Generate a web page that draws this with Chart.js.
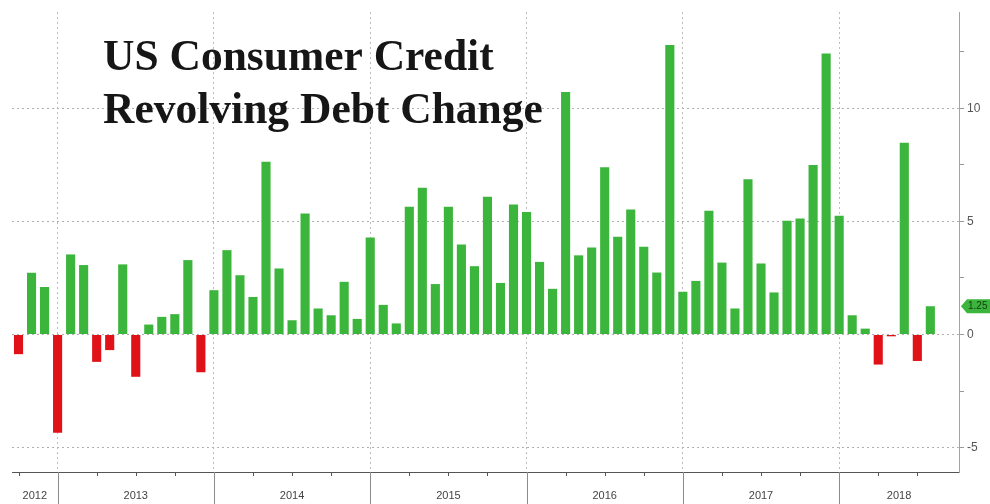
<!DOCTYPE html>
<html>
<head>
<meta charset="utf-8">
<script src="https://cdn.jsdelivr.net/npm/chart.js@4.4.1/dist/chart.umd.min.js"></script>
<style>
  html, body { margin: 0; padding: 0; background: #fff; }
  #wrap { width: 990px; height: 504px; }
</style>
</head>
<body>
<div id="wrap"><canvas id="debtChart" width="990" height="504"></canvas></div>
<script>
// monthly revolving credit change, $bn (Sep 2012 .. Jul 2018)
const months = [
  '2012-09', '2012-10', '2012-11', '2012-12',
  '2013-01', '2013-02', '2013-03', '2013-04', '2013-05', '2013-06', '2013-07', '2013-08', '2013-09', '2013-10', '2013-11', '2013-12',
  '2014-01', '2014-02', '2014-03', '2014-04', '2014-05', '2014-06', '2014-07', '2014-08', '2014-09', '2014-10', '2014-11', '2014-12',
  '2015-01', '2015-02', '2015-03', '2015-04', '2015-05', '2015-06', '2015-07', '2015-08', '2015-09', '2015-10', '2015-11', '2015-12',
  '2016-01', '2016-02', '2016-03', '2016-04', '2016-05', '2016-06', '2016-07', '2016-08', '2016-09', '2016-10', '2016-11', '2016-12',
  '2017-01', '2017-02', '2017-03', '2017-04', '2017-05', '2017-06', '2017-07', '2017-08', '2017-09', '2017-10', '2017-11', '2017-12',
  '2018-01', '2018-02', '2018-03', '2018-04', '2018-05', '2018-06', '2018-07'
];
const values = [
  -0.87, 2.73, 2.1, -4.34,
  3.54, 3.07, -1.21, -0.69, 3.1, -1.87, 0.44, 0.78, 0.9, 3.29, -1.67, 1.96,
  3.73, 2.62, 1.66, 7.64, 2.92, 0.63, 5.35, 1.15, 0.85, 2.33, 0.69, 4.29,
  1.31, 0.49, 5.65, 6.49, 2.23, 5.65, 3.98, 3.02, 6.09, 2.28, 5.75, 5.42,
  3.21, 2.02, 10.72, 3.5, 3.85, 7.39, 4.32, 5.53, 3.88, 2.74, 12.8, 1.89,
  2.37, 5.47, 3.18, 1.15, 6.86, 3.14, 1.86, 5.03, 5.13, 7.49, 12.43, 5.25,
  0.85, 0.26, -1.33, -0.08, 8.48, -1.17, 1.25
];
const years = ['2012', '2013', '2014', '2015', '2016', '2017', '2018'];
const yTickValues = [-5, -2.5, 0, 2.5, 5, 7.5, 10, 12.5];
const titleLines = ['US Consumer Credit', 'Revolving Debt Change'];

const GREEN = '#3cb53c';
const RED = '#e01218';

// december bars sit on the year boundary, quarter ends get a small tick
const yearEdges = months.map((m, i) => m.endsWith('-12') ? i : -1).filter(i => i >= 0);
const quarterIdx = months.map((m, i) => /-(03|06|09|12)$/.test(m) ? i : -1).filter(i => i >= 0);

const X_MIN = -0.5, X_MAX = 72.2;

const bottomAxisPlugin = {
    id: 'bottomAxis',
    afterDraw: (chart) => {
        const ctx = chart.ctx;
        const xs = chart.scales.x;
        const ys = chart.scales.y;
        const area = chart.chartArea;
        ctx.save();

        // quarter ticks
        ctx.strokeStyle = '#555';
        ctx.lineWidth = 1;
        quarterIdx.forEach(i => {
            const px = Math.round(xs.getPixelForValue(i)) + 0.5;
            ctx.beginPath();
            ctx.moveTo(px, area.bottom);
            ctx.lineTo(px, area.bottom + 4);
            ctx.stroke();
        });

        // year separators
        ctx.strokeStyle = '#8c8c8c';
        yearEdges.forEach(i => {
            const px = Math.round(xs.getPixelForValue(i)) + 0.5;
            ctx.beginPath();
            ctx.moveTo(px, area.bottom);
            ctx.lineTo(px, chart.height);
            ctx.stroke();
        });

        // year labels, centred in each segment
        const edgesPx = [xs.getPixelForValue(X_MIN)]
            .concat(yearEdges.map(i => xs.getPixelForValue(i)))
            .concat([xs.getPixelForValue(X_MAX)]);
        ctx.font = '11px "Liberation Sans", sans-serif';
        ctx.fillStyle = '#444';
        ctx.textAlign = 'center';
        ctx.textBaseline = 'middle';
        years.forEach((y, k) => {
            ctx.fillText(y, (edgesPx[k] + edgesPx[k + 1]) / 2, area.bottom + 24);
        });

        // last value tag on the right axis
        const last = values[values.length - 1];
        const ty = ys.getPixelForValue(last);
        const tx = area.right + 2;
        ctx.fillStyle = GREEN;
        ctx.beginPath();
        ctx.moveTo(tx, ty);
        ctx.lineTo(tx + 6, ty - 7);
        ctx.lineTo(chart.width, ty - 7);
        ctx.lineTo(chart.width, ty + 7);
        ctx.lineTo(tx + 6, ty + 7);
        ctx.closePath();
        ctx.fill();
        ctx.font = '10px "Liberation Sans", sans-serif';
        ctx.fillStyle = '#163a16';
        ctx.textAlign = 'left';
        ctx.fillText(last.toFixed(2), tx + 7, ty + 0.5);

        // chart title
        ctx.font = 'bold 43.5px "Liberation Serif", serif';
        ctx.fillStyle = '#161616';
        ctx.textAlign = 'left';
        ctx.textBaseline = 'alphabetic';
        ctx.fillText(titleLines[0], 103, 70);
        ctx.fillText(titleLines[1], 103, 123);

        ctx.restore();
    }
};

new Chart(document.getElementById('debtChart').getContext('2d'), {
    type: 'bar',
    data: {
        datasets: [{
            data: months.map((m, i) => ({ x: i, y: values[i] })),
            backgroundColor: values.map(v => v >= 0 ? GREEN : RED),
            borderWidth: 0,
            barPercentage: 0.7,
            categoryPercentage: 1.0
        }]
    },
    options: {
        responsive: false,
        animation: false,
        layout: { padding: { left: 12, top: 12, right: 0, bottom: 0 } },
        plugins: { legend: { display: false }, tooltip: { enabled: false } },
        scales: {
            x: {
                type: 'linear',
                offset: false,
                min: X_MIN,
                max: X_MAX,
                afterBuildTicks: (s) => { s.ticks = yearEdges.map(v => ({ value: v })); },
                afterFit: (s) => { s.height = 32; },
                ticks: { display: false },
                grid: { color: '#bcbcbc', drawTicks: false, offset: false },
                border: { color: '#555', width: 1, dash: [2, 3] }
            },
            y: {
                position: 'right',
                min: -6.08,
                max: 14.26,
                afterBuildTicks: (s) => { s.ticks = yTickValues.map(v => ({ value: v })); },
                afterFit: (s) => { s.width = 31; },
                ticks: {
                    padding: 3,
                    color: '#555',
                    font: { family: 'Liberation Sans', size: 12 },
                    callback: (v) => v % 5 === 0 ? String(v) : ''
                },
                grid: {
                    color: (c) => c.tick && c.tick.value % 5 === 0 ? '#b0b0b0' : 'rgba(0,0,0,0)',
                    tickColor: '#8fa08f',
                    tickLength: 5
                },
                border: { color: '#9aab9a', width: 1, dash: [2, 3] }
            }
        }
    },
    plugins: [bottomAxisPlugin]
});
</script>
</body>
</html>
